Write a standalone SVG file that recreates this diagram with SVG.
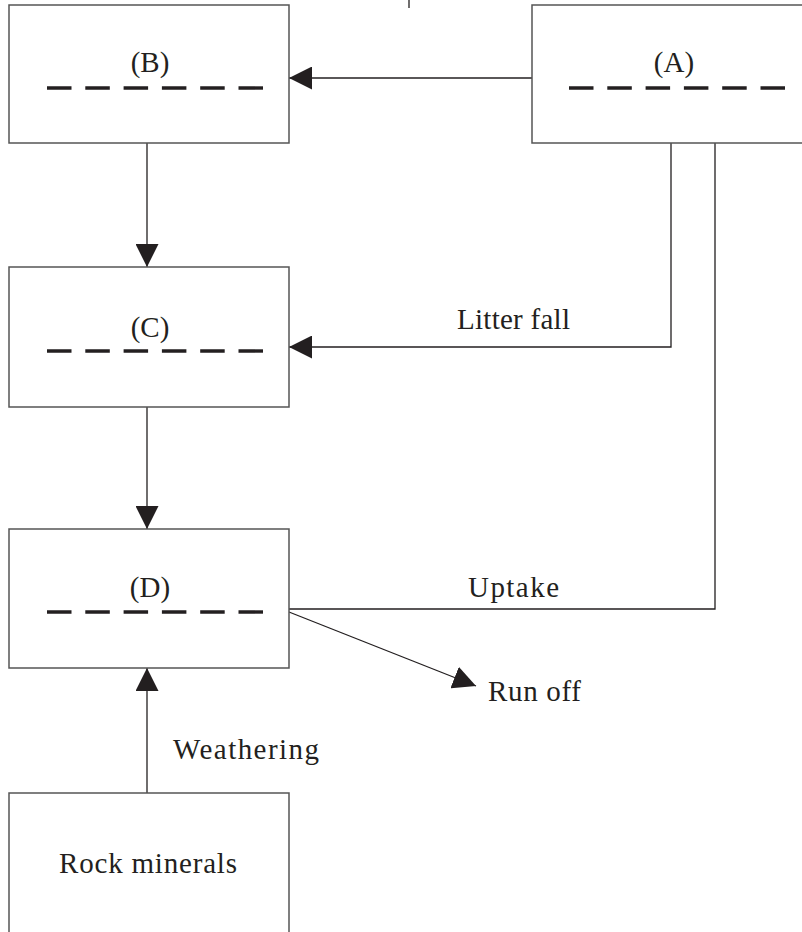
<svg xmlns="http://www.w3.org/2000/svg" width="802" height="932" viewBox="0 0 802 932">
<style>
.box{fill:#fff;stroke:#555;stroke-width:1.5}
.dash{stroke:#231f20;stroke-width:3.4;stroke-dasharray:24.5 13.8}
.ln{fill:none;stroke:#231f20;stroke-width:1.3}
text{font-family:"Liberation Serif","Times New Roman",serif;font-size:29px;fill:#231f20}
.c{text-anchor:middle}
</style>
<defs>
<marker id="ah" viewBox="0 0 23 23" refX="23" refY="11.5" markerWidth="23" markerHeight="23" markerUnits="userSpaceOnUse" orient="auto">
<path d="M0,0 L23,11.5 L0,23 z" fill="#231f20"/>
</marker>
</defs>
<rect width="802" height="932" fill="#fff"/>
<g id="connectors">
<line class="ln" x1="409" y1="0" x2="409" y2="8"/>
<line class="ln" x1="532" y1="78" x2="289" y2="78" marker-end="url(#ah)"/>
<line class="ln" x1="147" y1="143" x2="147" y2="267" marker-end="url(#ah)"/>
<polyline class="ln" points="671,143 671,347 289,347" marker-end="url(#ah)"/>
<line class="ln" x1="147" y1="407" x2="147" y2="529" marker-end="url(#ah)"/>
<polyline class="ln" points="715,143 715,609 289,609"/>
<line class="ln" x1="289" y1="612" x2="476" y2="686" marker-end="url(#ah)"/>
<line class="ln" x1="147" y1="793" x2="147" y2="668" marker-end="url(#ah)"/>
<text x="457" y="329" textLength="113" lengthAdjust="spacing">Litter fall</text>
<text x="468" y="597" textLength="91" lengthAdjust="spacing">Uptake</text>
<text x="488" y="701" textLength="93" lengthAdjust="spacing">Run off</text>
<text x="173" y="759" textLength="146" lengthAdjust="spacing">Weathering</text>
</g>
<g id="nodeB">
<rect class="box" x="9" y="5" width="280" height="138"/>
<text class="c" x="150" y="72">(B)</text>
<line class="dash" x1="47" y1="88" x2="264" y2="88"/>
</g>
<g id="nodeA">
<rect class="box" x="532" y="5" width="290" height="138"/>
<text class="c" x="674" y="72">(A)</text>
<line class="dash" x1="569" y1="88" x2="787" y2="88"/>
</g>
<g id="nodeC">
<rect class="box" x="9" y="267" width="280" height="140"/>
<text class="c" x="150" y="337">(C)</text>
<line class="dash" x1="47" y1="351" x2="264" y2="351"/>
</g>
<g id="nodeD">
<rect class="box" x="9" y="529" width="280" height="139"/>
<text class="c" x="150" y="597">(D)</text>
<line class="dash" x1="47" y1="612" x2="264" y2="612"/>
</g>
<g id="nodeRock">
<rect class="box" x="9" y="793" width="280" height="160"/>
<text x="59" y="873" textLength="178" lengthAdjust="spacing">Rock minerals</text>
</g>
</svg>
